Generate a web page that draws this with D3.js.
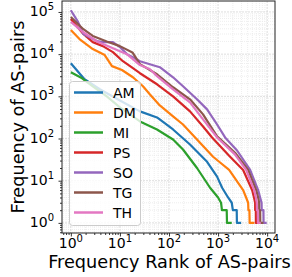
<!DOCTYPE html>
<html lang="en">
<head>
<meta charset="UTF-8">
<title>Frequency of AS-pairs</title>
<script src="https://cdnjs.cloudflare.com/ajax/libs/d3/7.8.5/d3.min.js"></script>
<style>
  body { margin: 0; background: #fff; }
  svg { display: block; font-family: "DejaVu Sans", sans-serif; }
</style>
</head>
<body>
<svg id="chart" width="292" height="277"></svg>
<script>
// rank-frequency curves, [rank, frequency]
const AM = [[1,6100],[1.9,2540],[3.9,1470],[10,800],[25.6,440],[57,316],[121,164],[268,72],[597,28],[955,12.5],[1210,6.8],[1600,4],[1900,3],[2000,2],[2400,2],[2420,1],[2950,1]];
const DM = [[1,37300],[1.5,22800],[2.8,13200],[4.9,9500],[6.9,5200],[11,4200],[18.4,2830],[29.5,1730],[41,1100],[65,610],[121,334],[193,215],[372,95],[791,37],[1100,27],[1680,18],[3240,6],[3730,4],[4100,3],[4150,2],[4350,2],[4400,1],[5500,1]];
const MI = [[1,3730],[1.7,2680],[2.8,1730],[5.4,1000],[10,547],[25.6,254],[57,164],[121,95],[193,55],[372,20],[687,6.8],[1000,4],[1150,3],[1200,2],[1500,2],[1520,1],[1900,1]];
const PS = [[1,68000],[1.8,30000],[2.8,19300],[4.5,15500],[7.2,11200],[11.5,6800],[18.4,4640],[25.6,3530],[57,1930],[121,1000],[268,440],[494,193],[755,106],[1680,39],[3240,18],[4940,6],[5400,4],[5690,3],[5700,2],[5880,2],[5900,1],[6640,1]];
const SO = [[1,110000],[1.4,58000],[1.8,30000],[3.4,20400],[4.5,19300],[7.2,19300],[10,14700],[13.9,10000],[18.4,8500],[25.6,6800],[65,4900],[121,2830],[193,1730],[372,850],[597,490],[955,215],[1390,106],[2440,52],[4500,18],[6550,6],[7200,4],[7700,3],[7750,2],[8400,2],[8450,1],[9800,1]];
const TG = [[1,76000],[1.8,39000],[2.8,27000],[5.4,20000],[10,15500],[18,11000],[25.6,5800],[57,3340],[121,1640],[268,850],[494,373],[955,112],[2220,46],[4100,18],[5980,6],[6550,4],[6870,3],[6900,2],[7200,2],[7250,1],[8400,1]];
const TH = [[1,58000],[1.8,33000],[3.4,20000],[6.3,14700],[13.9,10000],[25.6,5500],[41,4400],[57,3000],[121,1470],[268,720],[494,283],[955,106],[2200,42],[3730,18],[5440,6],[5900,4],[6160,3],[6200,2],[6460,2],[6500,1],[7440,1]];

const seriesNames = ["AM","DM","MI","PS","SO","TG","TH"];
const seriesData = [AM, DM, MI, PS, SO, TG, TH];
const colors = ["#1f77b4","#ff7f0e","#2ca02c","#d62728","#9467bd","#8c564b","#e377c2"];
const majorX = [1, 10, 100, 1000, 10000];
const majorY = [1, 10, 100, 1000, 10000, 100000];

const mLeft = 62, mRight = 275, mTop = 1, mBottom = 233;
const svg = d3.select("#chart");

const x = d3.scaleLog().domain([Math.pow(10, -0.18), Math.pow(10, 4.16)]).range([mLeft, mRight]);
const y = d3.scaleLog().domain([Math.pow(10, -0.24), Math.pow(10, 5.26)]).range([mBottom, mTop]);

function minors(scale) {
  const [a, b] = scale.domain();
  const out = [];
  for (let e = Math.floor(Math.log10(a)); e <= Math.ceil(Math.log10(b)); e++) {
    for (let m = 2; m <= 9; m++) {
      const v = m * Math.pow(10, e);
      if (v >= a && v <= b) out.push(v);
    }
  }
  return out;
}
const minorX = minors(x), minorY = minors(y);

// grid
const grid = svg.append("g");
grid.selectAll(".gxm").data(minorX).join("line")
  .attr("x1", d => x(d)).attr("x2", d => x(d)).attr("y1", mTop).attr("y2", mBottom)
  .attr("stroke", "#e6e6e6").attr("stroke-width", 0.7).attr("stroke-dasharray", "1,1");
grid.selectAll(".gym").data(minorY).join("line")
  .attr("y1", d => y(d)).attr("y2", d => y(d)).attr("x1", mLeft).attr("x2", mRight)
  .attr("stroke", "#e6e6e6").attr("stroke-width", 0.7).attr("stroke-dasharray", "1,1");
grid.selectAll(".gx").data(majorX).join("line")
  .attr("x1", d => x(d)).attr("x2", d => x(d)).attr("y1", mTop).attr("y2", mBottom)
  .attr("stroke", "#d4d4d4").attr("stroke-width", 0.8).attr("stroke-dasharray", "2,1");
grid.selectAll(".gy").data(majorY).join("line")
  .attr("y1", d => y(d)).attr("y2", d => y(d)).attr("x1", mLeft).attr("x2", mRight)
  .attr("stroke", "#d4d4d4").attr("stroke-width", 0.8).attr("stroke-dasharray", "2,1");

// lines
const line = d3.line().x(d => x(d[0])).y(d => y(d[1]));
svg.append("g").selectAll("path").data(seriesData).join("path")
  .attr("d", line)
  .attr("fill", "none")
  .attr("stroke", (d, i) => colors[i])
  .attr("stroke-width", 2.2)
  .attr("stroke-linejoin", "round");

// axes
const gx = svg.append("g").attr("transform", `translate(0,${mBottom})`);
gx.call(d3.axisBottom(x).tickValues(majorX).tickSize(3.5).tickFormat(""));
gx.append("g").call(d3.axisBottom(x).tickValues(minorX).tickSize(2).tickFormat(""));
const gy = svg.append("g").attr("transform", `translate(${mLeft},0)`);
gy.call(d3.axisLeft(y).tickValues(majorY).tickSize(3.5).tickFormat(""));
gy.append("g").call(d3.axisLeft(y).tickValues(minorY).tickSize(2).tickFormat(""));
svg.selectAll(".domain").remove();
svg.selectAll(".tick line").attr("stroke", "#000").attr("stroke-width", 0.8);

svg.append("rect")
  .attr("x", mLeft).attr("y", mTop).attr("width", mRight - mLeft).attr("height", mBottom - mTop)
  .attr("fill", "none").attr("stroke", "#222").attr("stroke-width", 1);

// tick labels
const xl = svg.append("g").selectAll("text").data(majorX).join("text")
  .attr("x", d => x(d)).attr("y", mBottom + 14.5)
  .attr("text-anchor", "middle").attr("font-size", 14).attr("fill", "#000");
xl.append("tspan").text("10");
xl.append("tspan").attr("dy", -6).attr("font-size", 10).text(d => Math.round(Math.log10(d)));

const yl = svg.append("g").selectAll("text").data(majorY).join("text")
  .attr("x", mLeft - 8).attr("y", d => y(d) + 4)
  .attr("text-anchor", "end").attr("font-size", 14).attr("fill", "#000");
yl.append("tspan").text("10");
yl.append("tspan").attr("dy", -6).attr("font-size", 10).text(d => Math.round(Math.log10(d)));

// axis titles
svg.append("text").attr("x", (mLeft + mRight) / 2 + 1).attr("y", 268)
  .attr("text-anchor", "middle").attr("font-size", 17.7).text("Frequency Rank of AS-pairs");
svg.append("text").attr("transform", `translate(24,${(mTop + mBottom) / 2}) rotate(-90)`)
  .attr("text-anchor", "middle").attr("font-size", 17.7).text("Frequency of AS-pairs");

// legend
const lg = svg.append("g");
lg.append("rect").attr("x", 69.5).attr("y", 81.5).attr("width", 71).attr("height", 144).attr("rx", 3)
  .attr("fill", "#fff").attr("fill-opacity", 0.8).attr("stroke", "#ccc").attr("stroke-width", 1);
const items = lg.selectAll("g.item").data(seriesNames).join("g")
  .attr("transform", (d, i) => `translate(0,${92.5 + i * 20})`);
items.append("line").attr("x1", 74).attr("x2", 103).attr("y1", 0).attr("y2", 0)
  .attr("stroke", (d, i) => colors[i]).attr("stroke-width", 2.5);
items.append("text").attr("x", 113).attr("y", 5).attr("font-size", 14).text(d => d);
</script>
</body>
</html>
